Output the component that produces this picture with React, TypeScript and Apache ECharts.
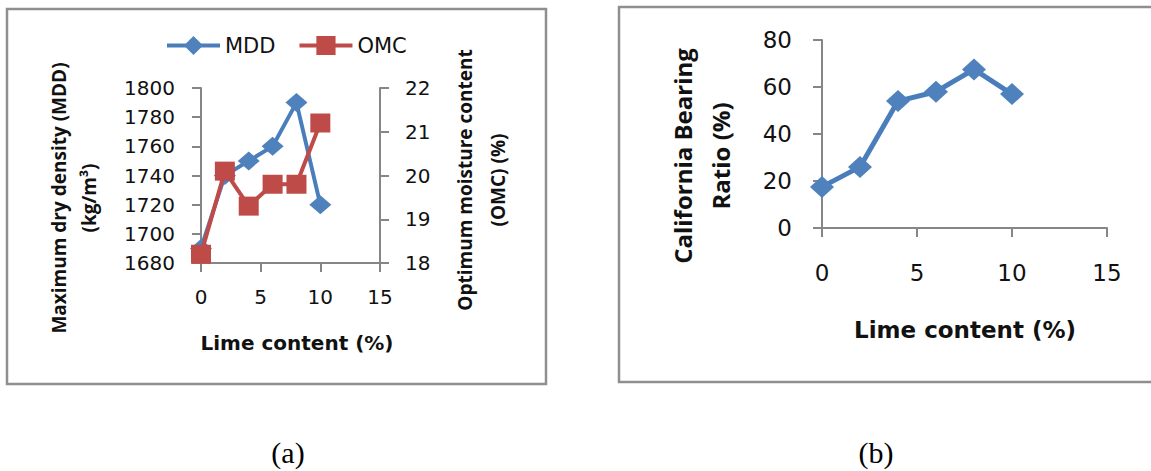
import React, { useEffect, useRef } from "react";
import * as echarts from "echarts";

// ---- data ----
const limeContent = [0, 2, 4, 6, 8, 10];
const mddValues = [1690, 1740, 1750, 1760, 1790, 1720];
const omcValues = [18.2, 20.1, 19.3, 19.8, 19.8, 21.2];
const cbrValues = [17.5, 26, 54, 58, 67.5, 57];

const limeAxis = { min: 0, max: 15, interval: 5 };
const mddAxis = { min: 1680, max: 1800, interval: 20 };
const omcAxis = { min: 18, max: 22, interval: 1 };
const cbrAxis = { min: 0, max: 80, interval: 20 };

const seriesNames = ["MDD", "OMC"];
const xTitle = "Lime content (%)";
const mddTitle = "Maximum dry density (MDD)\n(kg/m³)";
const omcTitle = "Optimum moisture content\n(OMC) (%)";
const cbrTitle = "California Bearing\nRatio (%)";
const captions = ["(a)", "(b)"];

// ---- styles ----
const BLUE_LINE = "#4A7EBB";
const BLUE_MARK = "#4F81BD";
const RED = "#BE4B48";
const AXIS = "#868686";
const FRAME = "#8f8f8f";
const TXT = "#111111";
const FONT = "DejaVu Sans";
const TITLE_FONT = "Open Sans";

function axisBase(fontSize: number, margin: number) {
  return {
    axisLine: { show: true, onZero: false, lineStyle: { color: AXIS, width: 2 } },
    axisTick: { show: true, inside: false, length: 9, lineStyle: { color: AXIS, width: 2 } },
    splitLine: { show: false },
    axisLabel: {
      fontFamily: FONT,
      fontSize,
      color: TXT,
      margin,
      formatter: (v: number) => String(v),
    },
  };
}

export default function App() {
  const ref = useRef<HTMLDivElement>(null);

  useEffect(() => {
    if (!ref.current) return;
    const chart = echarts.init(ref.current, undefined, { renderer: "svg" });

    const pair = (vals: number[]) => limeContent.map((x, i) => [x, vals[i]]);

    chart.setOption({
      animation: false,
      backgroundColor: "#ffffff",
      legend: {
        data: seriesNames,
        left: 160,
        top: 30,
        itemWidth: 53,
        itemHeight: 24,
        itemGap: 22,
        lineStyle: { width: 4 },
        textStyle: { fontFamily: FONT, fontSize: 21, color: TXT },
      },
      grid: [
        { left: 201, top: 88, width: 179, height: 175 },
        { left: 822, top: 40, width: 285, height: 188 },
      ],
      xAxis: [
        { type: "value", gridIndex: 0, ...limeAxis, ...axisBase(20, 24) },
        { type: "value", gridIndex: 1, ...limeAxis, ...axisBase(23, 33) },
      ],
      yAxis: [
        { type: "value", gridIndex: 0, position: "left", ...mddAxis, ...axisBase(20, 26) },
        { type: "value", gridIndex: 0, position: "right", ...omcAxis, ...axisBase(20, 25) },
        { type: "value", gridIndex: 1, position: "left", ...cbrAxis, ...axisBase(23, 30) },
      ],
      series: [
        {
          name: seriesNames[0],
          type: "line",
          xAxisIndex: 0,
          yAxisIndex: 0,
          data: pair(mddValues),
          symbol: "diamond",
          symbolSize: [22, 19],
          lineStyle: { color: BLUE_LINE, width: 4 },
          itemStyle: { color: BLUE_MARK },
          z: 2,
        },
        {
          name: seriesNames[1],
          type: "line",
          xAxisIndex: 0,
          yAxisIndex: 1,
          data: pair(omcValues),
          symbol: "rect",
          symbolSize: [20, 19],
          lineStyle: { color: RED, width: 4 },
          itemStyle: { color: RED },
          z: 3,
        },
        {
          name: "CBR",
          type: "line",
          xAxisIndex: 1,
          yAxisIndex: 2,
          data: pair(cbrValues),
          symbol: "diamond",
          symbolSize: [24, 22],
          lineStyle: { color: BLUE_LINE, width: 5 },
          itemStyle: { color: BLUE_MARK },
          z: 2,
        },
      ],
      graphic: [
        {
          type: "rect",
          z: -10,
          silent: true,
          shape: { x: 7, y: 9, width: 539, height: 375 },
          style: { fill: "none", stroke: FRAME, lineWidth: 2.5 },
        },
        {
          type: "rect",
          z: -10,
          silent: true,
          shape: { x: 619, y: 7, width: 600, height: 375 },
          style: { fill: "none", stroke: FRAME, lineWidth: 2.5 },
        },
        {
          type: "text",
          x: 297,
          y: 343,
          style: {
            text: xTitle,
            align: "center",
            verticalAlign: "middle",
            font: `bold 20px "${FONT}"`,
            fill: TXT,
          },
        },
        {
          type: "text",
          x: 965,
          y: 330,
          style: {
            text: xTitle,
            align: "center",
            verticalAlign: "middle",
            font: `bold 23px "${FONT}"`,
            fill: TXT,
          },
        },
        {
          type: "text",
          x: 74,
          y: 198,
          rotation: Math.PI / 2,
          style: {
            text: mddTitle,
            align: "center",
            verticalAlign: "middle",
            font: `bold 19px "${TITLE_FONT}"`,
            lineHeight: 30,
            fill: TXT,
          },
        },
        {
          type: "text",
          x: 481,
          y: 180,
          rotation: Math.PI / 2,
          style: {
            text: omcTitle,
            align: "center",
            verticalAlign: "middle",
            font: `bold 19px "${TITLE_FONT}"`,
            lineHeight: 33,
            fill: TXT,
          },
        },
        {
          type: "text",
          x: 701,
          y: 156,
          rotation: Math.PI / 2,
          style: {
            text: cbrTitle,
            align: "center",
            verticalAlign: "middle",
            font: `bold 24px "${TITLE_FONT}"`,
            lineHeight: 38,
            fill: TXT,
          },
        },
        {
          type: "text",
          x: 288,
          y: 452,
          style: {
            text: captions[0],
            align: "center",
            verticalAlign: "middle",
            font: `30px "Liberation Serif"`,
            fill: "#000",
          },
        },
        {
          type: "text",
          x: 876,
          y: 452,
          style: {
            text: captions[1],
            align: "center",
            verticalAlign: "middle",
            font: `30px "Liberation Serif"`,
            fill: "#000",
          },
        },
      ],
    });

    return () => chart.dispose();
  }, []);

  return (
    <div
      ref={ref}
      style={{ position: "absolute", left: 0, top: 0, width: 1151, height: 471, background: "#fff" }}
    />
  );
}
